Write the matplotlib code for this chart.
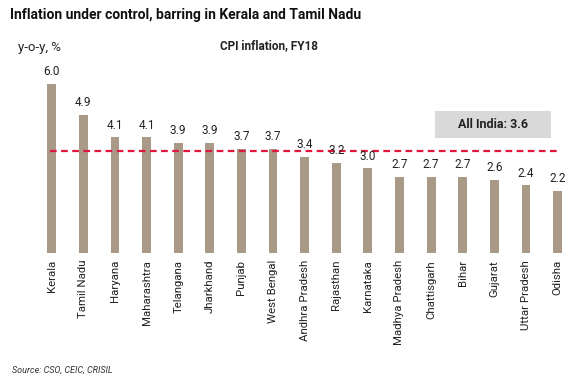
import matplotlib
matplotlib.use("Agg")
import matplotlib.pyplot as plt
from matplotlib.patches import Rectangle
import numpy as np

plt.rcParams["font.family"] = ["Roboto", "DejaVu Sans"]

states = ["Kerala", "Tamil Nadu", "Haryana", "Maharashtra", "Telangana", "Jharkhand",
          "Punjab", "West Bengal", "Andhra Pradesh", "Rajasthan", "Karnataka",
          "Madhya Pradesh", "Chattisgarh", "Bihar", "Gujarat", "Uttar Pradesh", "Odisha"]
inflation = [6.0, 4.9, 4.1, 4.1, 3.9, 3.9, 3.7, 3.7, 3.4, 3.2, 3.0, 2.7, 2.7, 2.7, 2.6, 2.4, 2.2]
all_india = 3.6

BAR = "#A89A87"
RED = "#E0163C"

fig = plt.figure(figsize=(5.86, 3.91), dpi=100)
ax = fig.add_axes([0.0614, 0.353, 0.917, 0.491])

x = np.arange(len(states))
ax.bar(x, inflation, width=0.28, color=BAR)
for xi, v in zip(x, inflation):
    ax.text(xi, v + 0.2, f"{v:.1f}", ha="center", va="bottom", fontsize=8.5, color="#222222")

ax.plot([-0.05, len(states) - 1 + 0.05], [all_india, all_india], color=RED, lw=1.6,
        ls=(0, (3, 2)))

ax.set_xlim(-0.5, len(states) - 0.5)
ax.set_ylim(0, 6.8)
ax.set_xticks(x)
ax.set_xticklabels(states, rotation=90, fontsize=8.2, color="#222222")
ax.tick_params(axis="x", length=0, pad=5)
ax.set_yticks([])
for s in ax.spines.values():
    s.set_visible(False)

# "All India" call-out box
ax.add_patch(Rectangle((0.743, 0.599), 0.216, 0.141, transform=ax.transAxes,
                       fc="#D9D9D9", ec="none", zorder=1))
ax.text(0.851, 0.669, f"All India: {all_india}", transform=ax.transAxes, ha="center",
        va="center", fontsize=9, fontweight="bold", color="#222222", zorder=2)

fig.text(10 / 586, 1 - 15 / 391, "Inflation under control, barring in Kerala and Tamil Nadu",
         fontsize=10, fontweight="bold", va="center", ha="left", color="#111111")
fig.text(18 / 586, 1 - 47 / 391, "y-o-y, %", fontsize=9.5, va="center", ha="left",
         color="#222222")
fig.text(220 / 586, 1 - 46 / 391, "CPI inflation, FY18", fontsize=8.5, fontweight="bold",
         va="center", ha="left", color="#222222")
fig.text(12 / 586, 1 - 370 / 391, "Source: CSO, CEIC, CRISIL", fontsize=6.5, style="italic",
         va="center", ha="left", color="#333333")

fig.savefig("out.png", dpi=100)
